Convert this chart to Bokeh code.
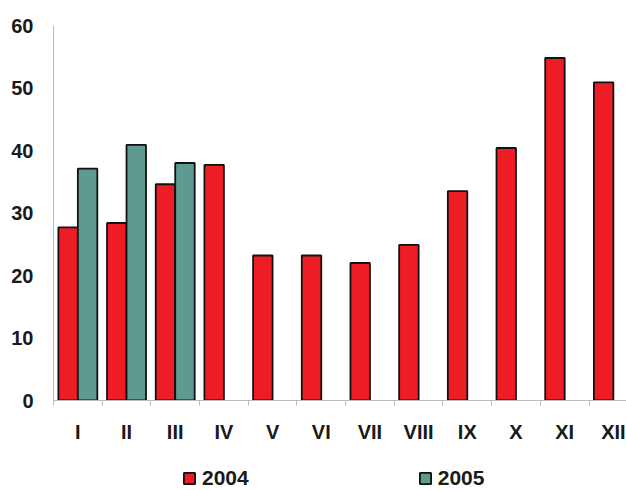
from bokeh.plotting import figure
from bokeh.layouts import column
from bokeh.models import Range1d, FixedTicker, ColumnDataSource, Legend, LegendItem
from bokeh.embed import file_html
from bokeh.resources import INLINE

months = ["I", "II", "III", "IV", "V", "VI", "VII", "VIII", "IX", "X", "XI", "XII"]
v2004 = [27.7, 28.4, 34.6, 37.7, 23.2, 23.2, 22.0, 24.9, 33.5, 40.4, 54.8, 50.9]
months2005 = ["I", "II", "III"]
v2005 = [37.1, 40.9, 38.0]
y_ticks = [0, 10, 20, 30, 40, 50, 60]
series_names = ["2004", "2005"]

RED = "#EE1C25"
TEAL = "#5E9A8F"
FONT = "Liberation Sans"

idx = {m: i for i, m in enumerate(months)}
src04 = ColumnDataSource(dict(x=[idx[m] + 0.5 - 0.2 for m in months], top=v2004))
src05 = ColumnDataSource(dict(x=[idx[m] + 0.5 + 0.2 for m in months2005], top=v2005))

p = figure(width=626, height=445, output_backend="svg", toolbar_location=None,
           x_range=Range1d(0, 11.77), y_range=Range1d(0, 60),
           min_border_left=53, min_border_top=25, min_border_right=0,
           min_border_bottom=45)
p.outline_line_color = None
p.grid.visible = False

bar_style = dict(width=0.4, bottom=0, line_color="#111111", line_width=1.8)
p.vbar(x="x", top="top", source=src04, fill_color=RED, **bar_style)
p.vbar(x="x", top="top", source=src05, fill_color=TEAL, **bar_style)

centers = [i + 0.5 for i in range(len(months))]
bounds = [i for i in range(len(months) + 1)]
p.xaxis.ticker = FixedTicker(ticks=centers, minor_ticks=bounds)
p.xaxis.major_label_overrides = {c: m for c, m in zip(centers, months)}
p.xaxis.major_tick_line_color = None
p.xaxis.major_tick_out = 0
p.xaxis.major_tick_in = 0
p.xaxis.minor_tick_out = 5
p.xaxis.minor_tick_in = 0
p.xaxis.minor_tick_line_color = "#bbbbbb"
p.xaxis.axis_line_color = "#bbbbbb"
p.xaxis.major_label_standoff = 15
p.xaxis.major_label_text_font = FONT
p.xaxis.major_label_text_font_style = "bold"
p.xaxis.major_label_text_font_size = "20px"
p.xaxis.major_label_text_color = "#1a1a1a"

p.yaxis.ticker = FixedTicker(ticks=y_ticks)
p.yaxis.major_tick_line_color = None
p.yaxis.minor_tick_line_color = None
p.yaxis.axis_line_color = "#bbbbbb"
p.yaxis.major_label_standoff = 14
p.yaxis.major_label_text_font = FONT
p.yaxis.major_label_text_font_style = "bold"
p.yaxis.major_label_text_font_size = "20px"
p.yaxis.major_label_text_color = "#1a1a1a"

# legend strip (renderers hidden; only their legend swatches show)
lg = figure(width=626, height=45, output_backend="svg", toolbar_location=None,
            x_range=Range1d(0, 1), y_range=Range1d(0, 1),
            min_border=0, x_axis_location=None, y_axis_location=None)
lg.outline_line_color = None
lg.grid.visible = False
e1 = lg.vbar(x="x", top="top", source=src04, fill_color=RED, visible=False, **bar_style)
e2 = lg.vbar(x="x", top="top", source=src05, fill_color=TEAL, visible=False, **bar_style)
legend = Legend(items=[LegendItem(label=series_names[0], renderers=[e1]),
                       LegendItem(label=series_names[1], renderers=[e2])],
                orientation="horizontal", location=(129, 0),
                spacing=169, glyph_width=14, glyph_height=14, label_standoff=6,
                padding=0, margin=0, border_line_color=None,
                background_fill_alpha=0, click_policy="none",
                label_text_font=FONT, label_text_font_style="bold",
                label_text_font_size="21px", label_text_color="#1a1a1a")
lg.add_layout(legend, "center")

layout = column(p, lg, spacing=0)
open("out.html", "w").write(file_html(layout, INLINE))
